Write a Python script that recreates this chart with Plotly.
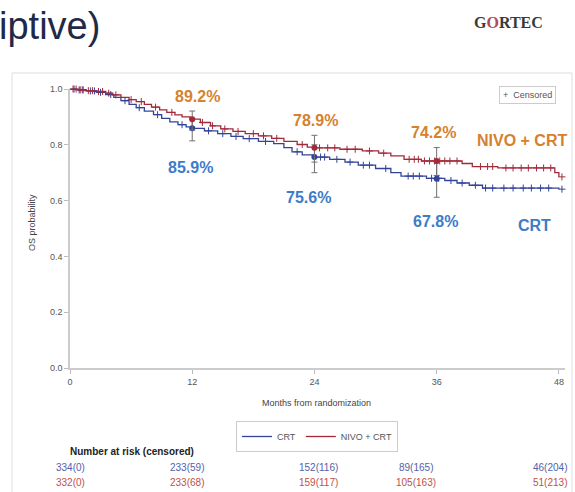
import plotly.graph_objects as go

# ---------------- data ----------------
nivo_t = [0, 0.8, 1.5, 2.5, 3.5, 4.2, 5.0, 5.8, 6.5, 7.3, 8.0, 8.8, 9.5, 10.3, 11.0, 11.8,
          12.8, 13.8, 14.8, 16.0, 17.2, 18.5, 19.8, 21.0, 22.3, 23.3, 24.0, 26.5, 28.7,
          30.3, 31.5, 32.8, 34.5, 38.5, 39.5, 42.0, 47.6, 48.0]
nivo_s = [1.0, 0.997, 0.994, 0.991, 0.985, 0.979, 0.970, 0.962, 0.955, 0.945, 0.935, 0.925,
          0.916, 0.907, 0.900, 0.892, 0.880, 0.868, 0.857, 0.848, 0.840, 0.832, 0.823, 0.812,
          0.801, 0.792, 0.789, 0.784, 0.778, 0.770, 0.760, 0.748, 0.742, 0.733, 0.722, 0.717,
          0.700, 0.685]
crt_t = [0, 0.8, 1.6, 2.6, 3.5, 4.3, 5.0, 5.8, 6.5, 7.3, 8.2, 9.0, 9.8, 10.6, 11.4, 12.0,
         13.2, 14.5, 15.8, 17.0, 18.5, 20.0, 21.0, 21.8, 22.8, 23.8, 25.5, 27.0, 28.3, 30.0,
         31.5, 32.5, 35.0, 36.8, 38.0, 39.2, 40.5, 48.0]
crt_s = [1.0, 0.997, 0.993, 0.988, 0.980, 0.970, 0.958, 0.945, 0.933, 0.921, 0.908, 0.895,
         0.882, 0.872, 0.864, 0.859, 0.850, 0.840, 0.830, 0.822, 0.812, 0.804, 0.790, 0.775,
         0.764, 0.756, 0.748, 0.738, 0.727, 0.715, 0.700, 0.688, 0.680, 0.672, 0.663, 0.655,
         0.645, 0.641]

nivo_cens = [0.3, 0.6, 1.0, 1.3, 1.8, 2.2, 2.8, 3.2, 3.8, 4.5, 6.0, 7.0, 8.4, 10.0, 13.0,
             14.0, 15.2, 16.5, 18.0, 19.0, 20.3, 22.8, 24.5, 25.3, 26.0, 27.2, 28.0, 29.4,
             30.8, 33.3, 33.8, 34.2, 34.8, 35.3, 35.8, 36.3, 36.8, 37.3, 38.0, 40.3, 41.0,
             41.5, 42.8, 43.5, 44.3, 45.0, 45.8, 46.5, 47.2, 48.3]
crt_cens = [0.4, 0.9, 1.2, 2.0, 2.4, 3.0, 4.0, 5.4, 6.8, 8.6, 11.0, 13.6, 15.0, 16.3, 17.6,
            19.2, 22.3, 24.6, 25.0, 26.2, 27.5, 28.8, 29.4, 31.0, 33.2, 33.7, 34.3, 35.5,
            36.2, 37.4, 38.5, 39.8, 40.8, 41.5, 42.6, 43.5, 44.5, 45.3, 46.2, 47.0, 48.3]

landmark_months = [12, 24, 36]
nivo_lm = [0.892, 0.789, 0.742]
nivo_lo = [0.853, 0.738, 0.690]
nivo_hi = [0.921, 0.834, 0.790]
crt_lm = [0.859, 0.756, 0.678]
crt_lo = [0.814, 0.700, 0.612]
crt_hi = [0.893, 0.800, 0.735]
nivo_lbl = ["89.2%", "78.9%", "74.2%"]
crt_lbl = ["85.9%", "75.6%", "67.8%"]

x_ticks = [0, 12, 24, 36, 48]
y_ticks = [0.0, 0.2, 0.4, 0.6, 0.8, 1.0]
risk_crt = ["334(0)", "233(59)", "152(116)", "89(165)", "46(204)"]
risk_nivo = ["332(0)", "233(68)", "159(117)", "105(163)", "51(213)"]

# ---------------- styling ----------------
RED = "#a3293a"
BLUE = "#33439a"
ORANGE = "#d6812f"
LBLUE = "#3c7cc8"
GRAY = "#666666"

L, R, T, B = 70, 10, 89, 124
W, H = 575, 492
PW, PH = W - L - R, H - T - B


def px(x):
    return (x - L) / PW


def py(y):
    return (H - B - y) / PH


def step_val(ts, ss, c):
    v = ss[0]
    for t, s in zip(ts, ss):
        if t <= c:
            v = s
    return v


def note(x, y, text, **kw):
    d = dict(x=px(x), y=py(y), xref="paper", yref="paper", text=text, showarrow=False,
             xanchor="center", yanchor="middle")
    d.update(kw)
    return d


fig = go.Figure()

fig.add_trace(go.Scatter(x=crt_t, y=crt_s, mode="lines", line=dict(shape="hv", color=BLUE, width=1.3),
                         name="CRT", cliponaxis=False))
fig.add_trace(go.Scatter(x=nivo_t, y=nivo_s, mode="lines", line=dict(shape="hv", color=RED, width=1.3),
                         name="NIVO + CRT", cliponaxis=False))

fig.add_trace(go.Scatter(x=crt_cens, y=[step_val(crt_t, crt_s, c) for c in crt_cens], mode="markers",
                         marker=dict(symbol="cross-thin", size=5, line=dict(color=BLUE, width=1)),
                         showlegend=False, cliponaxis=False))
fig.add_trace(go.Scatter(x=nivo_cens, y=[step_val(nivo_t, nivo_s, c) for c in nivo_cens], mode="markers",
                         marker=dict(symbol="cross-thin", size=5, line=dict(color=RED, width=1)),
                         showlegend=False, cliponaxis=False))

fig.add_trace(go.Scatter(x=landmark_months, y=crt_lm, mode="markers",
                         marker=dict(color=BLUE, size=6),
                         error_y=dict(type="data", symmetric=False,
                                      array=[h - m for h, m in zip(crt_hi, crt_lm)],
                                      arrayminus=[m - l for m, l in zip(crt_lm, crt_lo)],
                                      color="#707070", thickness=1, width=3),
                         showlegend=False))
fig.add_trace(go.Scatter(x=landmark_months, y=nivo_lm, mode="markers",
                         marker=dict(color=RED, size=6),
                         error_y=dict(type="data", symmetric=False,
                                      array=[h - m for h, m in zip(nivo_hi, nivo_lm)],
                                      arrayminus=[m - l for m, l in zip(nivo_lm, nivo_lo)],
                                      color="#707070", thickness=1, width=3),
                         showlegend=False))

ann = []
big = dict(size=16, family="Liberation Sans")
nivo_lbl_pos = [(197, 96), (315, 120), (433, 132)]
crt_lbl_pos = [(190, 167), (308, 197), (435, 222)]
for lbl, (xx, yy) in zip(nivo_lbl, nivo_lbl_pos):
    ann.append(note(xx, yy, f"<b>{lbl}</b>", font=dict(color=ORANGE, **big)))
for lbl, (xx, yy) in zip(crt_lbl, crt_lbl_pos):
    ann.append(note(xx, yy, f"<b>{lbl}</b>", font=dict(color=LBLUE, **big)))
ann.append(note(522, 140, "<b>NIVO + CRT</b>", font=dict(color=ORANGE, **big)))
ann.append(note(534, 225, "<b>CRT</b>", font=dict(color=LBLUE, **big)))

# censored box
ann.append(note(527, 95, "+  Censored", font=dict(size=9, color="#555"), bordercolor="#cccccc",
                borderwidth=1, borderpad=3, bgcolor="white"))

# axis titles
ann.append(note(32, 223, "OS probability", textangle=-90, font=dict(size=9, color="#444")))
ann.append(note(316, 403, "Months from randomization", font=dict(size=9, color="#444")))

# title fragment and logo
ann.append(note(-3, 26, "iptive)", xanchor="left",
                font=dict(size=38, color="#1e2a48", family="Liberation Sans")))
ann.append(note(508, 22, "<b>G<span style='color:#b04a5a'>O</span>RTEC</b>",
                font=dict(size=16, color="#3a3a3a", family="Liberation Serif")))

# number at risk
ann.append(note(132, 451, "<b>Number at risk (censored)</b>", font=dict(size=10, color="#222")))
risk_x = [70, 187, 318, 416, 550]
for xx, a, b in zip(risk_x, risk_crt, risk_nivo):
    ann.append(note(xx, 467, a, font=dict(size=10, color="#5660a8")))
    ann.append(note(xx, 482, b, font=dict(size=10, color="#c0504d")))

shapes = [dict(type="rect", xref="paper", yref="paper", x0=px(12), x1=px(572), y0=py(73), y1=py(520),
               line=dict(color="#dddddd", width=1), layer="below")]

fig.update_layout(
    width=W, height=H,
    margin=dict(l=L, r=R, t=T, b=B),
    paper_bgcolor="white", plot_bgcolor="white",
    font=dict(family="Liberation Sans", size=9, color=GRAY),
    xaxis=dict(range=[0, 48.6], tickvals=x_ticks, ticks="outside", ticklen=4, tickcolor="#bbb",
               showline=True, linecolor="#cccccc", linewidth=1.5, showgrid=False, zeroline=False,
               tickfont=dict(size=9, color="#555")),
    yaxis=dict(range=[0, 1.0], tickvals=y_ticks, tickformat=".1f", ticks="outside", ticklen=4,
               tickcolor="#bbb", showline=True, linecolor="#cccccc", linewidth=1.5, showgrid=False,
               zeroline=False, tickfont=dict(size=9, color="#555")),
    legend=dict(orientation="h", x=px(317), y=py(421), xanchor="center", yanchor="top",
                bordercolor="#cccccc", borderwidth=1, font=dict(size=9, color="#555"),
                itemwidth=30, tracegroupgap=0),
    annotations=ann,
    shapes=shapes,
)

fig.write_html("out.html", config={"displayModeBar": False},
               post_script="document.body.style.margin='0';")
